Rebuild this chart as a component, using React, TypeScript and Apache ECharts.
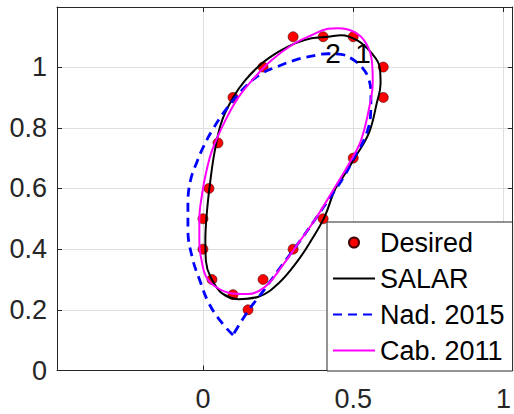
import React, { useEffect, useRef } from 'react';
import * as echarts from 'echarts';

// Desired points
const desiredPts: number[][] = [
  [0.3, 1.1], [0.4, 1.1], [0.5, 1.1], [0.6, 1.0], [0.6, 0.9],
  [0.2, 1.0], [0.1, 0.9], [0.05, 0.75], [0.02, 0.6], [0, 0.5],
  [0, 0.4], [0.03, 0.3], [0.1, 0.25], [0.2, 0.3], [0.15, 0.2],
  [0.3, 0.4], [0.4, 0.5], [0.5, 0.7],
];

// SALAR closed curve
const salarPts: number[][] = [
  [0.119, 0.235], [0.185, 0.243], [0.251, 0.287], [0.317, 0.364], [0.361, 0.43],
  [0.405, 0.507], [0.438, 0.594], [0.46, 0.628], [0.504, 0.699], [0.552, 0.782],
  [0.578, 0.88], [0.591, 0.946], [0.588, 1.0], [0.562, 1.045], [0.515, 1.087],
  [0.46, 1.105], [0.416, 1.1], [0.361, 1.095], [0.306, 1.078], [0.251, 1.05],
  [0.196, 1.012], [0.141, 0.957], [0.102, 0.902], [0.064, 0.825], [0.04, 0.727],
  [0.025, 0.628], [0.013, 0.52], [0.008, 0.43], [0.01, 0.36], [0.025, 0.309],
  [0.064, 0.254],
];

// Nad. 2015 curve (starts and ends at bottom vertex)
const nadPts: number[][] = [
  [0.1, 0.117], [0.064, 0.156], [0.02, 0.221], [-0.013, 0.304], [-0.035, 0.37],
  [-0.05, 0.463], [-0.05, 0.551], [-0.041, 0.628], [-0.019, 0.69], [0.003, 0.74],
  [0.031, 0.792], [0.075, 0.858], [0.141, 0.935], [0.196, 0.979], [0.251, 1.003],
  [0.306, 1.023], [0.361, 1.036], [0.416, 1.044], [0.46, 1.042], [0.499, 1.025],
  [0.532, 0.996], [0.551, 0.963], [0.559, 0.913], [0.558, 0.847], [0.54, 0.77],
  [0.504, 0.704], [0.47, 0.64], [0.433, 0.585], [0.372, 0.496], [0.317, 0.419],
  [0.251, 0.331], [0.191, 0.249], [0.152, 0.199], [0.1, 0.117],
];

// Cab. 2011 closed curve
const cabPts: number[][] = [
  [0.152, 0.252], [0.207, 0.276], [0.262, 0.342], [0.317, 0.419], [0.372, 0.496],
  [0.427, 0.584], [0.493, 0.694], [0.526, 0.759], [0.554, 0.87], [0.565, 0.95],
  [0.562, 1.02], [0.543, 1.078], [0.505, 1.115], [0.45, 1.128], [0.416, 1.126],
  [0.361, 1.105], [0.295, 1.072], [0.229, 1.023], [0.174, 0.968], [0.119, 0.902],
  [0.075, 0.825], [0.031, 0.727], [0.01, 0.65], [-0.003, 0.58], [-0.012, 0.5],
  [-0.012, 0.42], [-0.004, 0.36], [0.01, 0.31], [0.042, 0.276], [0.097, 0.254],
];

const annotations = [
  { name: '2', value: [0.433, 1.044] },
  { name: '1', value: [0.533, 1.044] },
];

const legendNames = ['Desired', 'SALAR', 'Nad. 2015', 'Cab. 2011'];

const xMin = -0.4856;
const xMax = 1.0308;
const yMin = 0;
const yMax = 1.198;

const wrap = (pts: number[][]) => [pts[pts.length - 1], ...pts, pts[0], pts[1]];

const FONT = 'Liberation Sans, Arial, Helvetica, sans-serif';
const AX = '#262626';
const GRID = '#dfdfdf';

export default function App() {
  const ref = useRef<HTMLDivElement>(null);
  useEffect(() => {
    if (!ref.current) return;
    const chart = echarts.init(ref.current, undefined, { renderer: 'svg' });
    const axisCommon = {
      type: 'value' as const,
      axisLine: { show: true, onZero: false, lineStyle: { color: AX, width: 1 } },
      axisTick: { show: true, inside: true, length: 5, lineStyle: { color: AX, width: 1 } },
    };
    chart.setOption({
      animation: false,
      backgroundColor: '#fff',
      textStyle: { fontFamily: FONT },
      grid: { left: 57, top: 7, right: -2, bottom: 43.5, containLabel: false },
      xAxis: [
        {
          ...axisCommon,
          position: 'bottom',
          min: xMin, max: xMax, splitNumber: 3, minInterval: 0.5, maxInterval: 0.5,
          axisLabel: { show: true, showMinLabel: false, showMaxLabel: false, fontSize: 27, color: AX, fontFamily: FONT, margin: 15 },
          splitLine: { show: true, lineStyle: { color: GRID, width: 1 } },
        },
        {
          ...axisCommon,
          position: 'top',
          min: xMin, max: xMax, splitNumber: 3, minInterval: 0.5, maxInterval: 0.5,
          axisLabel: { show: false },
          splitLine: { show: false },
        },
      ],
      yAxis: [
        {
          ...axisCommon,
          position: 'left',
          min: yMin, max: yMax, splitNumber: 6, minInterval: 0.2, maxInterval: 0.2,
          axisLabel: { show: true, showMaxLabel: false, fontSize: 27, color: AX, fontFamily: FONT, margin: 10 },
          splitLine: { show: true, lineStyle: { color: GRID, width: 1 } },
        },
        {
          ...axisCommon,
          position: 'right',
          min: yMin, max: yMax, splitNumber: 6, minInterval: 0.2, maxInterval: 0.2,
          axisLabel: { show: false },
          splitLine: { show: false },
        },
      ],
      legend: {
        data: [
          { name: legendNames[0] },
          { name: legendNames[1], itemStyle: { opacity: 0 } },
          { name: legendNames[2], itemStyle: { opacity: 0 } },
          { name: legendNames[3], itemStyle: { opacity: 0 } },
        ],
        orient: 'vertical',
        left: 327,
        top: 222,
        itemWidth: 42,
        itemHeight: 10,
        itemGap: 9,
        padding: [7, 8, 7, 5],
        backgroundColor: '#fff',
        borderColor: AX,
        borderWidth: 1,
        borderRadius: 0,
        selectedMode: false,
        textStyle: { fontSize: 27, color: '#000', fontFamily: FONT },
      },
      series: [
        {
          name: legendNames[0],
          type: 'scatter',
          data: desiredPts,
          symbol: 'circle',
          symbolSize: 10,
          itemStyle: { color: '#ff0000', borderColor: '#400000', borderWidth: 0.6, opacity: 1 },
          z: 2,
        },
        {
          name: legendNames[1],
          type: 'line',
          data: wrap(salarPts),
          smooth: 0.4,
          showSymbol: false,
          symbol: 'none',
          lineStyle: { color: '#000', width: 2 },
          itemStyle: { color: '#000' },
          z: 3,
        },
        {
          name: legendNames[2],
          type: 'line',
          data: nadPts,
          smooth: 0.4,
          showSymbol: false,
          symbol: 'none',
          lineStyle: { color: '#0000ff', width: 2.8, type: [9, 6] },
          itemStyle: { color: '#0000ff' },
          z: 3,
        },
        {
          name: legendNames[3],
          type: 'line',
          data: wrap(cabPts),
          smooth: 0.4,
          showSymbol: false,
          symbol: 'none',
          lineStyle: { color: '#ff00ff', width: 2 },
          itemStyle: { color: '#ff00ff' },
          z: 3,
        },
        {
          name: 'annot',
          type: 'scatter',
          data: annotations,
          symbol: 'circle',
          symbolSize: 2,
          itemStyle: { color: 'rgba(0,0,0,0)', opacity: 1 },
          label: {
            show: true,
            position: 'inside',
            formatter: '{b}',
            fontSize: 28,
            color: '#000',
            fontFamily: FONT,
          },
          z: 4,
        },
      ],
    });
    return () => chart.dispose();
  }, []);
  return (
    <div
      ref={ref}
      style={{ position: 'fixed', left: 0, top: 0, width: 514, height: 414, background: '#fff' }}
    />
  );
}
